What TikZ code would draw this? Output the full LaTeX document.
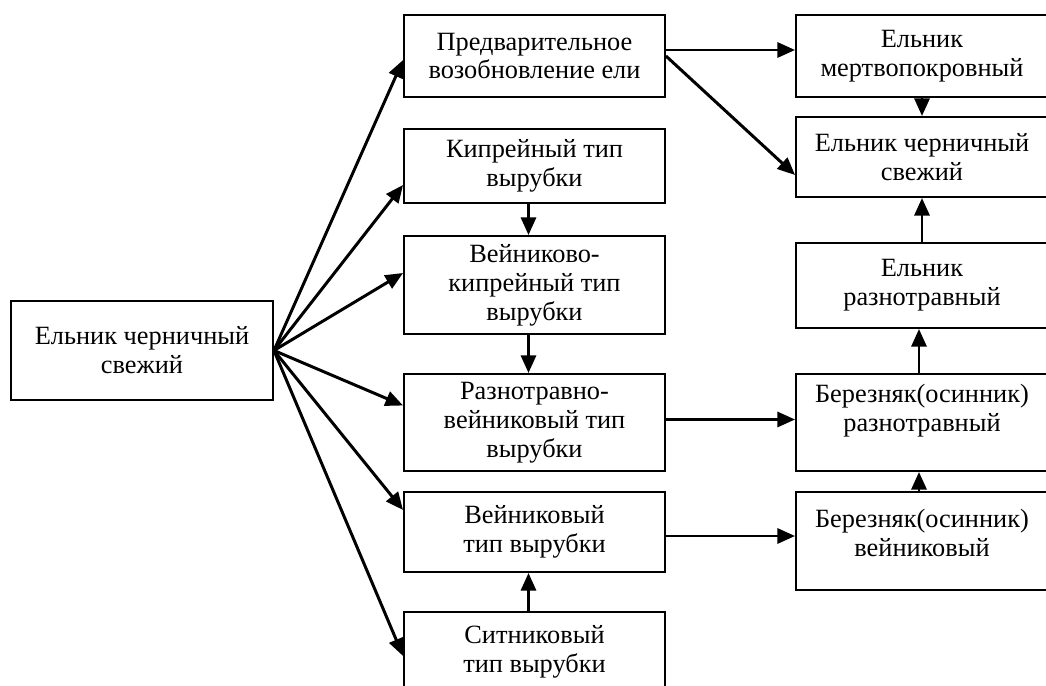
\documentclass[tikz,border=0pt]{standalone}
\usepackage{fontspec}
\setmainfont{Liberation Serif}
\usetikzlibrary{arrows.meta,calc}

\tikzset{
  blok/.style={draw, line width=1.1pt, align=center, inner sep=2pt,
    font=\fontsize{15}{16.5}\selectfont},
  strelka/.style={line width=1.7pt, -{Triangle[length=10pt,width=8.5pt]}}
}

\begin{document}
\begin{tikzpicture}[x=0.02cm, y=-0.02cm]
		%%%%% START %%%%%
		\useasboundingbox (0,0) rectangle (1046,686);
		\clip (0,0) rectangle (1046,686);
		
		\node[blok, minimum width=5.24cm, minimum height=1.98cm] (el0) at (142,350.5) {Ельник черничный\\свежий};
		
		% middle column
		\node[blok, minimum width=5.22cm, minimum height=1.64cm] (vozob) at (534.5,56) {Предварительное\\возобновление ели};
		\node[blok, minimum width=5.22cm, minimum height=1.48cm] (kipr) at (534.5,166) {Кипрейный тип\\вырубки};
		\node[blok, minimum width=5.22cm, minimum height=1.96cm] (vejkipr) at (534.5,285) {Вейниково-\\кипрейный тип\\вырубки};
		\node[blok, minimum width=5.22cm, minimum height=1.94cm] (raznvej) at (534.5,422.5) {Разнотравно-\\вейниковый тип\\вырубки};
		\node[blok, minimum width=5.22cm, minimum height=1.6cm] (vejn) at (534.5,532) {Вейниковый\\тип вырубки};
		\node[blok, minimum width=5.22cm, minimum height=1.6cm] (sitn) at (534.5,652) {Ситниковый\\тип вырубки};
		
		% right column
		\node[blok, minimum width=5.04cm, minimum height=1.64cm] (mertv) at (922,56) {Ельник\\мертвопокровный};
		\node[blok, minimum width=5.04cm, minimum height=1.6cm] (chern) at (922,157) {Ельник черничный\\свежий};
		\node[blok, minimum width=5.04cm, minimum height=1.7cm] (raznotr) at (922,285.5) {Ельник\\разнотравный};
		\node[blok, minimum width=5.04cm, minimum height=1.94cm, text depth=17pt] (berrazn) at (922,422.5) {Березняк(осинник)\\разнотравный};
		\node[blok, minimum width=5.04cm, minimum height=1.96cm, text depth=9pt] (bervej) at (922,541) {Березняк(осинник)\\вейниковый};
		
		% fan from the left box
		\draw[strelka] (el0.east) -- ($(vozob.west)+(0,4)$);
		\draw[strelka] (el0.east) -- ($(kipr.west)+(0,19)$);
		\draw[strelka] (el0.east) -- ($(vejkipr.west)+(0,-12)$);
		\draw[strelka] (el0.east) -- ($(raznvej.west)+(0,-17)$);
		\draw[strelka] (el0.east) -- ($(vejn.west)+(0,-22)$);
		\draw[strelka] (el0.east) -- ($(sitn.west)+(0,4)$);
		
		% vertical links
		\draw[strelka] ($(kipr.south)+(-6,0)$) -- ($(vejkipr.north)+(-6,0)$);
		\draw[strelka] ($(vejkipr.south)+(-6,0)$) -- ($(raznvej.north)+(-6,0)$);
		\draw[strelka] ($(sitn.north)+(-6,0)$) -- ($(vejn.south)+(-6,0)$);
		\draw[strelka] (mertv.south) -- (chern.north);
		\draw[strelka] (raznotr.north) -- (chern.south);
		\draw[strelka] ($(berrazn.north)+(-3,0)$) -- ($(raznotr.south)+(-3,0)$);
		\draw[strelka] ($(bervej.north)+(-3,0)$) -- ($(berrazn.south)+(-3,0)$);
		
		% links to the right column
		\draw[strelka] ($(vozob.east)+(0,-6)$) -- ($(mertv.west)+(0,-6)$);
		\draw[strelka] (vozob.east) -- ($(chern.west)+(0,18)$);
		\draw[strelka] ($(raznvej.east)+(0,-3)$) -- ($(berrazn.west)+(0,-3)$);
		\draw[strelka] ($(vejn.east)+(0,4)$) -- ($(bervej.west)+(0,-5)$);
		
		%%%%% END %%%%%
\end{tikzpicture}
\end{document}
